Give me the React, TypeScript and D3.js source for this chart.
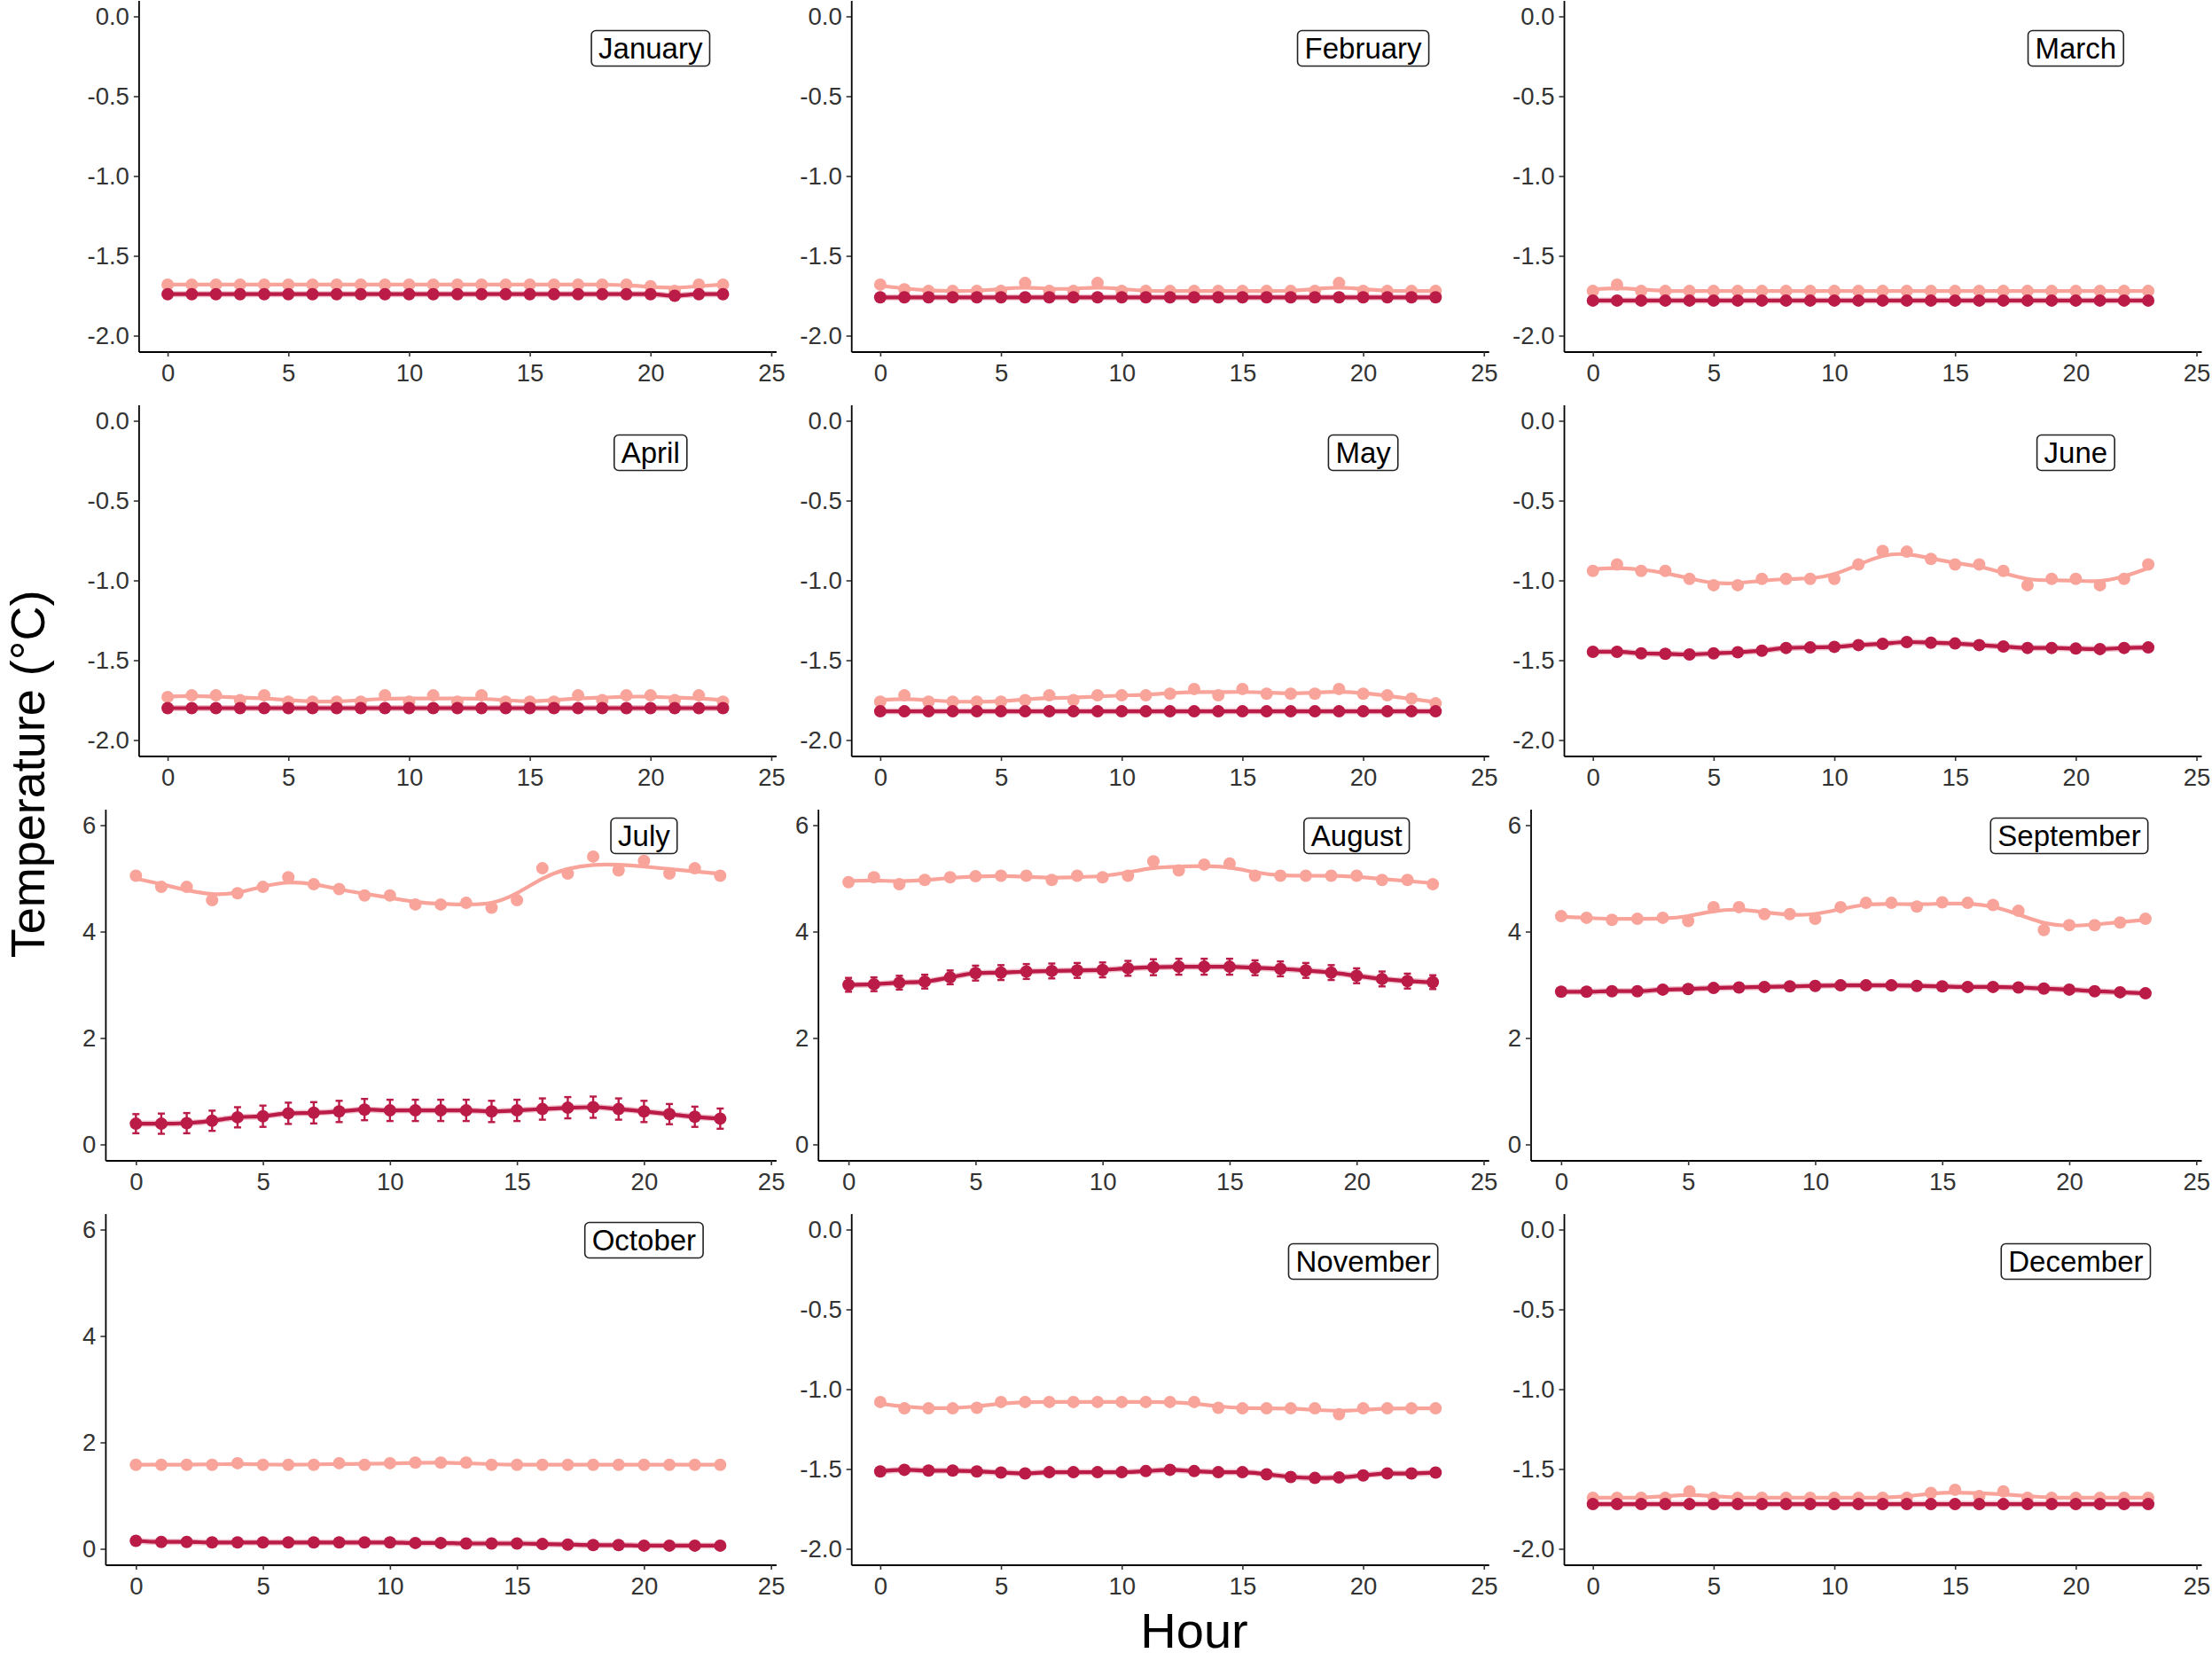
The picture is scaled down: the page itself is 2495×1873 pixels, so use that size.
import { useEffect, useRef } from "react"
import * as d3 from "d3"

const hours = [0, 1, 2, 3, 4, 5, 6, 7, 8, 9, 10, 11, 12, 13, 14, 15, 16, 17, 18, 19, 20, 21, 22, 23]

const monthNames = [
  "January", "February", "March", "April", "May", "June",
  "July", "August", "September", "October", "November", "December",
]
const warmMonths = ["July", "August", "September", "October"]

// upper (lighter) series
const janUpper = [-1.68, -1.68, -1.68, -1.68, -1.68, -1.68, -1.68, -1.68, -1.68, -1.68, -1.68, -1.68, -1.68, -1.68, -1.68, -1.68, -1.68, -1.68, -1.68, -1.68, -1.69, -1.72, -1.68, -1.68]
const febUpper = [-1.68, -1.71, -1.72, -1.72, -1.72, -1.72, -1.67, -1.72, -1.72, -1.67, -1.72, -1.72, -1.72, -1.72, -1.72, -1.72, -1.72, -1.72, -1.72, -1.67, -1.72, -1.72, -1.72, -1.72]
const marUpper = [-1.72, -1.68, -1.72, -1.72, -1.72, -1.72, -1.72, -1.72, -1.72, -1.72, -1.72, -1.72, -1.72, -1.72, -1.72, -1.72, -1.72, -1.72, -1.72, -1.72, -1.72, -1.72, -1.72, -1.72]
const aprUpper = [-1.73, -1.72, -1.72, -1.75, -1.72, -1.76, -1.76, -1.76, -1.76, -1.72, -1.76, -1.72, -1.76, -1.72, -1.76, -1.76, -1.76, -1.72, -1.75, -1.72, -1.72, -1.75, -1.72, -1.76]
const mayUpper = [-1.76, -1.72, -1.76, -1.76, -1.76, -1.76, -1.75, -1.72, -1.75, -1.72, -1.72, -1.72, -1.71, -1.68, -1.72, -1.68, -1.71, -1.71, -1.71, -1.68, -1.71, -1.72, -1.74, -1.77]
const junUpper = [-0.94, -0.9, -0.94, -0.94, -0.99, -1.03, -1.03, -0.99, -0.99, -0.99, -0.99, -0.9, -0.815, -0.82, -0.865, -0.9, -0.9, -0.94, -1.03, -0.99, -0.99, -1.03, -0.99, -0.9]
const julUpper = [5.05, 4.84, 4.84, 4.59, 4.72, 4.84, 5.02, 4.89, 4.8, 4.68, 4.68, 4.51, 4.51, 4.54, 4.45, 4.59, 5.19, 5.09, 5.41, 5.15, 5.33, 5.09, 5.19, 5.05]
const augUpper = [4.93, 5.02, 4.89, 4.97, 5.02, 5.04, 5.05, 5.05, 4.97, 5.05, 5.02, 5.05, 5.32, 5.15, 5.26, 5.28, 5.05, 5.05, 5.05, 5.05, 5.05, 4.97, 4.97, 4.89]
const sepUpper = [4.29, 4.26, 4.22, 4.24, 4.26, 4.2, 4.46, 4.46, 4.33, 4.33, 4.24, 4.46, 4.54, 4.54, 4.47, 4.55, 4.54, 4.5, 4.39, 4.03, 4.12, 4.12, 4.17, 4.24]
const octUpper = [1.58, 1.58, 1.58, 1.58, 1.61, 1.58, 1.58, 1.58, 1.61, 1.58, 1.61, 1.62, 1.62, 1.62, 1.58, 1.58, 1.58, 1.58, 1.58, 1.58, 1.58, 1.58, 1.58, 1.58]
const novUpper = [-1.08, -1.12, -1.12, -1.12, -1.117, -1.08, -1.08, -1.08, -1.08, -1.08, -1.08, -1.08, -1.08, -1.08, -1.117, -1.12, -1.12, -1.12, -1.12, -1.157, -1.12, -1.12, -1.12, -1.12]
const decUpper = [-1.68, -1.68, -1.68, -1.68, -1.64, -1.68, -1.68, -1.68, -1.68, -1.68, -1.68, -1.68, -1.68, -1.68, -1.65, -1.63, -1.67, -1.64, -1.68, -1.68, -1.68, -1.68, -1.68, -1.68]

// lower (darker) series
const janLower = [-1.74, -1.74, -1.74, -1.74, -1.74, -1.74, -1.74, -1.74, -1.74, -1.74, -1.74, -1.74, -1.74, -1.74, -1.74, -1.74, -1.74, -1.74, -1.74, -1.74, -1.74, -1.75, -1.74, -1.74]
const febLower = [-1.76, -1.76, -1.76, -1.76, -1.76, -1.76, -1.76, -1.76, -1.76, -1.76, -1.76, -1.76, -1.76, -1.76, -1.76, -1.76, -1.76, -1.76, -1.76, -1.76, -1.76, -1.76, -1.76, -1.76]
const marLower = [-1.78, -1.78, -1.78, -1.78, -1.78, -1.78, -1.78, -1.78, -1.78, -1.78, -1.78, -1.78, -1.78, -1.78, -1.78, -1.78, -1.78, -1.78, -1.78, -1.78, -1.78, -1.78, -1.78, -1.78]
const aprLower = [-1.8, -1.8, -1.8, -1.8, -1.8, -1.8, -1.8, -1.8, -1.8, -1.8, -1.8, -1.8, -1.8, -1.8, -1.8, -1.8, -1.8, -1.8, -1.8, -1.8, -1.8, -1.8, -1.8, -1.8]
const mayLower = [-1.82, -1.82, -1.82, -1.82, -1.82, -1.82, -1.82, -1.82, -1.82, -1.82, -1.82, -1.82, -1.82, -1.82, -1.82, -1.82, -1.82, -1.82, -1.82, -1.82, -1.82, -1.82, -1.82, -1.82]
const junLower = [-1.447, -1.447, -1.457, -1.46, -1.464, -1.457, -1.45, -1.44, -1.423, -1.42, -1.416, -1.405, -1.397, -1.386, -1.39, -1.395, -1.405, -1.414, -1.423, -1.423, -1.427, -1.43, -1.423, -1.42]
const julLower = [0.39, 0.39, 0.4, 0.445, 0.51, 0.53, 0.585, 0.595, 0.62, 0.655, 0.64, 0.64, 0.64, 0.64, 0.62, 0.64, 0.665, 0.69, 0.7, 0.665, 0.62, 0.57, 0.52, 0.485]
const augLower = [3.0, 3.01, 3.04, 3.06, 3.14, 3.22, 3.23, 3.25, 3.26, 3.27, 3.28, 3.31, 3.33, 3.34, 3.34, 3.34, 3.32, 3.3, 3.27, 3.23, 3.17, 3.11, 3.07, 3.05]
const sepLower = [2.87, 2.87, 2.88, 2.88, 2.91, 2.92, 2.94, 2.95, 2.96, 2.97, 2.98, 2.99, 2.99, 2.99, 2.98, 2.97, 2.96, 2.96, 2.95, 2.93, 2.91, 2.88, 2.86, 2.84]
const octLower = [0.15, 0.13, 0.13, 0.12, 0.12, 0.12, 0.12, 0.12, 0.12, 0.12, 0.12, 0.11, 0.11, 0.1, 0.1, 0.1, 0.09, 0.08, 0.07, 0.07, 0.06, 0.06, 0.06, 0.06]
const novLower = [-1.515, -1.505, -1.51, -1.51, -1.515, -1.522, -1.528, -1.52, -1.52, -1.52, -1.52, -1.513, -1.505, -1.513, -1.52, -1.52, -1.533, -1.55, -1.556, -1.553, -1.54, -1.528, -1.528, -1.522]
const decLower = [-1.72, -1.72, -1.72, -1.72, -1.72, -1.72, -1.72, -1.72, -1.72, -1.72, -1.72, -1.72, -1.72, -1.72, -1.72, -1.72, -1.72, -1.72, -1.72, -1.72, -1.72, -1.72, -1.72, -1.72]

// error bar half-widths of the lower series
const julLowerErr = [0.18, 0.19, 0.19, 0.19, 0.19, 0.2, 0.2, 0.2, 0.2, 0.2, 0.2, 0.2, 0.2, 0.2, 0.2, 0.2, 0.2, 0.2, 0.2, 0.2, 0.2, 0.19, 0.19, 0.19]
const augLowerErr = [0.13, 0.13, 0.13, 0.13, 0.13, 0.14, 0.14, 0.14, 0.14, 0.14, 0.14, 0.14, 0.15, 0.15, 0.15, 0.15, 0.14, 0.14, 0.14, 0.14, 0.14, 0.14, 0.14, 0.13]

const upperSeries = [janUpper, febUpper, marUpper, aprUpper, mayUpper, junUpper, julUpper, augUpper, sepUpper, octUpper, novUpper, decUpper]
const lowerSeries = [janLower, febLower, marLower, aprLower, mayLower, junLower, julLower, augLower, sepLower, octLower, novLower, decLower]
const lowerErrors: (number[] | null)[] = [null, null, null, null, null, null, julLowerErr, augLowerErr, null, null, null, null]

const xTicks = [0, 5, 10, 15, 20, 25]
const coldTicks = [0, -0.5, -1, -1.5, -2]
const warmTicks = [0, 2, 4, 6]
const labelHour = 20
const coldLabelTemp = -0.2
const warmLabelTemp = 5.8

const upperColor = "#F9A49B"
const lowerColor = "#BA1C47"
const font = "'Liberation Sans', Arial, Helvetica, sans-serif"

// light smoothing of the upper series, like the fitted curve in the original
const smooth = (values: number[]) =>
  values.map((v, k) => {
    const prev = values[k - 1] ?? v
    const next = values[k + 1] ?? v
    return (prev + 2 * v + next) / 4
  })

const hyphen = (s: string) => s.replace("\u2212", "-")

export default function App() {
  const svgRef = useRef<SVGSVGElement | null>(null)

  useEffect(() => {
    document.body.style.margin = "0"
    if (!svgRef.current) return

    const width = 2495
    const height = 1873
    const svg = d3.select(svgRef.current)
    svg.selectAll("*").remove()
    svg.attr("width", width).attr("height", height).attr("viewBox", `0 0 ${width} ${height}`)

    const colRight = [875.4, 1679.2, 2483]
    const rowPitch = 456
    const plotH = 396

    monthNames.forEach((month, i) => {
      const col = i % 3
      const row = Math.floor(i / 3)
      const warm = warmMonths.includes(month)
      const ticks = warm ? warmTicks : coldTicks
      const [lo, hi] = d3.extent(ticks) as [number, number]
      const pad = (hi - lo) * 0.05
      const top = 0.5 + row * rowPitch
      const right = colRight[col]
      const left = right - (warm ? 756.5 : 719)

      const x = d3.scaleLinear().domain([-1.2, 25.2]).range([left, right])
      const y = d3.scaleLinear().domain([lo - pad, hi + pad]).range([top + plotH, top])

      const g = svg.append("g")

      // axes
      g.append("g")
        .attr("transform", `translate(${left},0)`)
        .call(
          d3.axisLeft(y)
            .tickValues(ticks)
            .tickFormat((d) => hyphen(warm ? d3.format("d")(d as number) : d3.format(".1f")(d as number)))
            .tickSize(5.5)
            .tickSizeOuter(0)
            .tickPadding(5)
        )
        .call((a) => a.select(".domain").attr("stroke", "#000").attr("stroke-width", 1.8))
        .call((a) => a.selectAll(".tick line").attr("stroke", "#333").attr("stroke-width", 1.6))
        .call((a) => a.selectAll("text").attr("fill", "#333").attr("font-size", 27.5).attr("font-family", font))

      g.append("g")
        .attr("transform", `translate(0,${top + plotH})`)
        .call(
          d3.axisBottom(x)
            .tickValues(xTicks)
            .tickFormat(d3.format("d"))
            .tickSize(5.5)
            .tickSizeOuter(0)
            .tickPadding(8)
        )
        .call((a) => a.select(".domain").attr("stroke", "#000").attr("stroke-width", 1.8))
        .call((a) => a.selectAll(".tick line").attr("stroke", "#333").attr("stroke-width", 1.6))
        .call((a) => a.selectAll("text").attr("fill", "#333").attr("font-size", 27.5).attr("font-family", font))

      // upper series: smoothed line + points
      const upper = upperSeries[i]
      const upperLine = d3.line<number>()
        .x((_, k) => x(hours[k]))
        .y((d) => y(d))
        .curve(d3.curveBasis)

      g.append("path")
        .attr("d", upperLine(smooth(upper)))
        .attr("fill", "none")
        .attr("stroke", upperColor)
        .attr("stroke-width", 4.2)

      g.append("g")
        .selectAll("circle")
        .data(upper)
        .join("circle")
        .attr("cx", (_, k) => x(hours[k]))
        .attr("cy", (d) => y(d))
        .attr("r", 7)
        .attr("fill", upperColor)

      // lower series
      const lower = lowerSeries[i]
      const lowerLine = d3.line<number>()
        .x((_, k) => x(hours[k]))
        .y((d) => y(d))
        .curve(d3.curveMonotoneX)

      g.append("path")
        .attr("d", lowerLine(lower))
        .attr("fill", "none")
        .attr("stroke", "#E59AAE")
        .attr("stroke-opacity", 0.6)
        .attr("stroke-width", 7)

      g.append("path")
        .attr("d", lowerLine(lower))
        .attr("fill", "none")
        .attr("stroke", lowerColor)
        .attr("stroke-width", 4.2)

      const err = lowerErrors[i]
      if (err) {
        const eb = g.append("g").attr("stroke", lowerColor).attr("stroke-width", 2.4)
        lower.forEach((v, k) => {
          const cx = x(hours[k])
          const y1 = y(v - err[k])
          const y2 = y(v + err[k])
          eb.append("line").attr("x1", cx).attr("x2", cx).attr("y1", y1).attr("y2", y2)
          eb.append("line").attr("x1", cx - 4).attr("x2", cx + 4).attr("y1", y1).attr("y2", y1)
          eb.append("line").attr("x1", cx - 4).attr("x2", cx + 4).attr("y1", y2).attr("y2", y2)
        })
      }

      g.append("g")
        .selectAll("circle")
        .data(lower)
        .join("circle")
        .attr("cx", (_, k) => x(hours[k]))
        .attr("cy", (d) => y(d))
        .attr("r", 7)
        .attr("fill", lowerColor)

      // month label
      const lx = x(labelHour)
      const ly = y(warm ? warmLabelTemp : coldLabelTemp)
      const label = g.append("g")
      const box = label.append("rect")
      const txt = label.append("text")
        .attr("x", lx)
        .attr("y", ly)
        .attr("text-anchor", "middle")
        .attr("dominant-baseline", "central")
        .attr("font-family", font)
        .attr("font-size", 33)
        .attr("fill", "#000")
        .text(month)
      const tw = (txt.node() as SVGTextElement).getComputedTextLength()
      box
        .attr("x", lx - tw / 2 - 8)
        .attr("y", ly - 20)
        .attr("width", tw + 16)
        .attr("height", 40)
        .attr("rx", 5)
        .attr("fill", "#fff")
        .attr("stroke", "#222")
        .attr("stroke-width", 1.6)
    })

    svg.append("text")
      .attr("x", 1347)
      .attr("y", 1858)
      .attr("text-anchor", "middle")
      .attr("font-family", font)
      .attr("font-size", 56)
      .attr("fill", "#000")
      .text("Hour")

    svg.append("text")
      .attr("transform", `translate(50,873) rotate(-90)`)
      .attr("text-anchor", "middle")
      .attr("font-family", font)
      .attr("font-size", 54)
      .attr("fill", "#000")
      .text("Temperature (°C)")
  }, [])

  return <svg ref={svgRef} style={{ display: "block" }} />
}
